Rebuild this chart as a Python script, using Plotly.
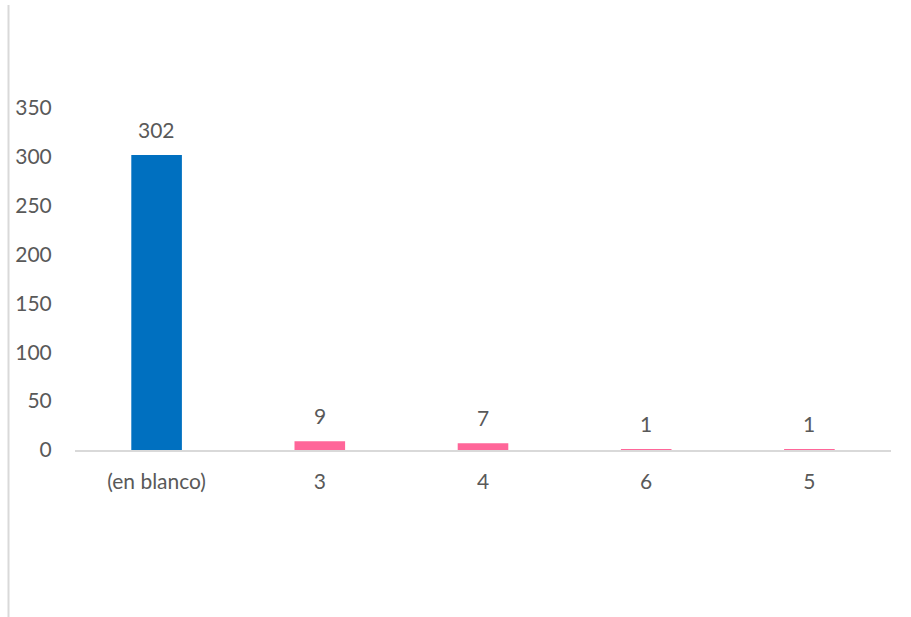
import plotly.graph_objects as go

categories = ["(en blanco)", "3", "4", "6", "5"]
values = [302, 9, 7, 1, 1]
bar_colors = ["#0070C0", "#FF6699", "#FF6699", "#FF6699", "#FF6699"]
y_ticks = [0, 50, 100, 150, 200, 250, 300, 350]

W, H = 911, 617
M_L, M_R, M_T, M_B = 75, 20, 108, 167
FONT = "Lato, 'Open Sans', sans-serif"
TXT = "#595959"
FS = 21

fig = go.Figure(
    go.Bar(
        x=categories,
        y=values,
        marker=dict(color=bar_colors, line=dict(width=0)),
        width=0.31,
        hoverinfo="skip",
    )
)

# value labels above each bar
for i, v in enumerate(values):
    fig.add_annotation(
        x=i, y=v, text=str(v), showarrow=False,
        yanchor="bottom", yshift=11,
        font=dict(family=FONT, size=FS, color=TXT),
    )

plot_w = W - M_L - M_R
plot_h = H - M_T - M_B
# thin gray rule on the left edge of the page
x_line = (8.5 - M_L) / plot_w
fig.add_shape(
    type="line", xref="paper", yref="paper",
    x0=x_line, x1=x_line,
    y0=(H - M_B - 5) / plot_h, y1=-(M_B) / plot_h,
    line=dict(color="#D9D9D9", width=2),
)

fig.update_layout(
    width=W, height=H,
    margin=dict(l=M_L, r=M_R, t=M_T, b=M_B),
    paper_bgcolor="white", plot_bgcolor="white",
    showlegend=False,
    font=dict(family=FONT, size=FS, color=TXT),
    xaxis=dict(
        type="category",
        showline=True, linecolor="#D9D9D9", linewidth=2,
        ticks="outside", ticklen=12, tickcolor="rgba(0,0,0,0)",
        showgrid=False, tickfont=dict(size=FS, color=TXT),
    ),
    yaxis=dict(
        range=[0, 350], tickvals=y_ticks,
        showgrid=False, zeroline=False, showline=False,
        ticks="outside", ticklen=18, tickcolor="rgba(0,0,0,0)",
        tickfont=dict(size=FS, color=TXT),
    ),
)

fig.write_html("out.html")
